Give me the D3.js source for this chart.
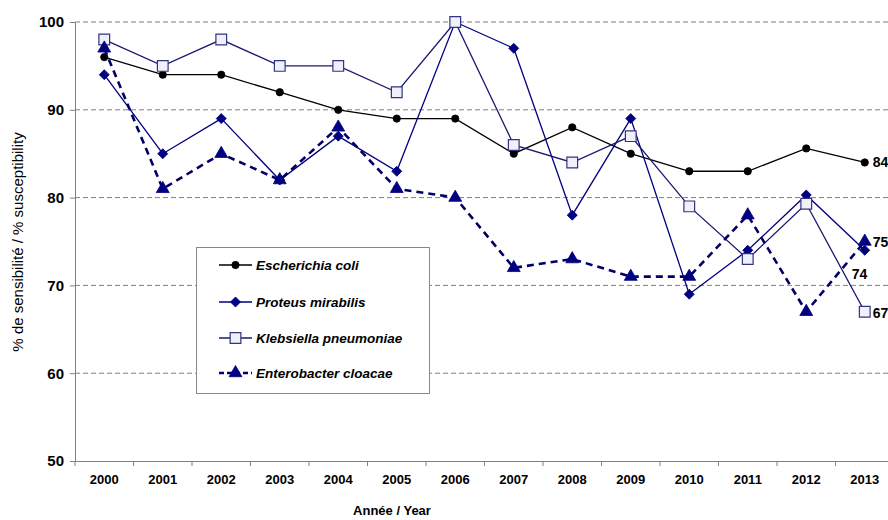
<!DOCTYPE html>
<html><head><meta charset="utf-8">
<script src="https://cdn.jsdelivr.net/npm/d3@7"></script>
<style>body{margin:0;background:#fff}svg{display:block;font-family:"Liberation Sans",Arial,sans-serif}</style>
</head><body><svg id="c" width="888" height="520"></svg>
<script>
const years = ["2000","2001","2002","2003","2004","2005","2006","2007","2008","2009","2010","2011","2012","2013"];
const ecoli = [96,94,94,92,90,89,89,85,88,85,83,83,85.6,84];
const proteus = [94,85,89,82,87,83,100,97,78,89,69,74,80.3,74];
const klebsiella = [98,95,98,95,95,92,100,86,84,87,79,73,79.3,67];
const enterobacter = [97,81,85,82,88,81,80,72,73,71,71,78,67,75];
const yTicks = [50,60,70,80,90,100];
const seriesNames = ["Escherichia coli","Proteus mirabilis","Klebsiella pneumoniae","Enterobacter cloacae"];
const endLabels = ["84","74","67","75"];

const svg = d3.select("#c");
const L = 75, R = 894, T = 22, B = 461;
const x = d3.scaleBand().domain(years).range([L, R]);
const y = d3.scaleLinear().domain([50,100]).range([B, T]);
const cx = d => x(d) + x.bandwidth()/2;

// gridlines
svg.append("g").selectAll("line").data(yTicks.filter(v=>v>50)).join("line")
  .attr("x1", L).attr("x2", 888).attr("y1", d=>y(d)).attr("y2", d=>y(d))
  .attr("stroke", "#808080").attr("stroke-width", 1).attr("stroke-dasharray", "5,3");

// y axis
const ya = svg.append("g").attr("transform", `translate(${L},0)`)
  .call(d3.axisLeft(y).tickValues(yTicks).tickSize(5).tickPadding(6));
ya.select(".domain").attr("stroke", "#808080");
ya.selectAll(".tick line").attr("stroke", "#808080");
ya.selectAll("text").attr("font-size", 15).attr("font-weight", "bold").attr("fill", "#000")
  .attr("font-family", "Liberation Sans, Arial, sans-serif");

// x axis
const xa = svg.append("g").attr("transform", `translate(0,${B})`)
  .call(d3.axisBottom(x).tickSize(0).tickPadding(14));
xa.select(".domain").attr("stroke", "#808080");
xa.selectAll("text").attr("font-size", 13).attr("font-weight", "bold").attr("fill", "#000")
  .attr("font-family", "Liberation Sans, Arial, sans-serif");
svg.append("g").selectAll("line").data(years).join("line")
  .attr("x1", d=>x(d)).attr("x2", d=>x(d)).attr("y1", B).attr("y2", B+5)
  .attr("stroke", "#808080");

// axis titles
svg.append("text").attr("x", 392).attr("y", 515).attr("text-anchor", "middle")
  .attr("font-size", 13).attr("font-weight", "bold").text("Année / Year");
svg.append("text").attr("transform", "translate(23,242) rotate(-90)").attr("text-anchor", "middle")
  .attr("font-size", 15).text("% de sensibilité / % susceptibility");

const line = d3.line().x((d,i)=>cx(years[i])).y(d=>y(d));

const styles = [
  {data: ecoli, stroke: "#000", width: 1.3, dash: null, marker: "circle", fill: "#000", mstroke: "#000"},
  {data: proteus, stroke: "#000080", width: 1.3, dash: null, marker: "diamond", fill: "#000080", mstroke: "#000080"},
  {data: klebsiella, stroke: "#1a1a70", width: 1.3, dash: null, marker: "square", fill: "#f0f0fa", mstroke: "#333380"},
  {data: enterobacter, stroke: "#000066", width: 2.6, dash: "7,5", marker: "triangle", fill: "#000080", mstroke: "#000080"}
];
const sym = {
  circle: d3.symbol().type(d3.symbolCircle).size(42),
  diamond: d3.symbol().type(d3.symbolSquare).size(50),
  square: d3.symbol().type(d3.symbolSquare).size(115),
  triangle: d3.symbol().type(d3.symbolTriangle).size(72)
};
const rot = m => m === "diamond" ? " rotate(45)" : "";

styles.forEach(s => {
  svg.append("path").datum(s.data).attr("d", line).attr("fill", "none")
    .attr("stroke", s.stroke).attr("stroke-width", s.width)
    .attr("stroke-dasharray", s.dash);
  svg.append("g").selectAll("path").data(s.data).join("path")
    .attr("transform", (d,i)=>`translate(${cx(years[i])},${y(d)})` + rot(s.marker))
    .attr("d", sym[s.marker]).attr("fill", s.fill).attr("stroke", s.mstroke)
    .attr("stroke-width", s.marker==="square"?1.2:0.8);
});

// end labels
const last = years[years.length-1];
const lab = [
  {t: endLabels[0], v: ecoli[13], dx: 8, dy: 5},
  {t: endLabels[1], v: proteus[13], dx: -13, dy: 29},
  {t: endLabels[2], v: klebsiella[13], dx: 8, dy: 6},
  {t: endLabels[3], v: enterobacter[13], dx: 8, dy: 5}
];
svg.append("g").selectAll("text").data(lab).join("text")
  .attr("x", d=>cx(last)+d.dx).attr("y", d=>y(d.v)+d.dy)
  .attr("font-size", 14).attr("font-weight", "bold").text(d=>d.t);

// legend
const lg = svg.append("g");
lg.append("rect").attr("x", 196.5).attr("y", 247.5).attr("width", 233).attr("height", 146)
  .attr("fill", "#fff").attr("stroke", "#888").attr("stroke-width", 1);
const ly = [265, 302, 338, 373];
styles.forEach((s,i) => {
  lg.append("line").attr("x1", 219).attr("x2", 252).attr("y1", ly[i]).attr("y2", ly[i])
    .attr("stroke", s.stroke).attr("stroke-width", s.width).attr("stroke-dasharray", s.dash ? "5,3" : null);
  lg.append("path").attr("transform", `translate(235.5,${ly[i]})` + rot(s.marker)).attr("d", sym[s.marker])
    .attr("fill", s.fill).attr("stroke", s.mstroke).attr("stroke-width", s.marker==="square"?1.2:0.8);
  lg.append("text").attr("x", 256).attr("y", ly[i]+5).attr("font-size", 13.5)
    .attr("font-weight", "bold").attr("font-style", "italic").text(seriesNames[i]);
});
</script></body></html>
